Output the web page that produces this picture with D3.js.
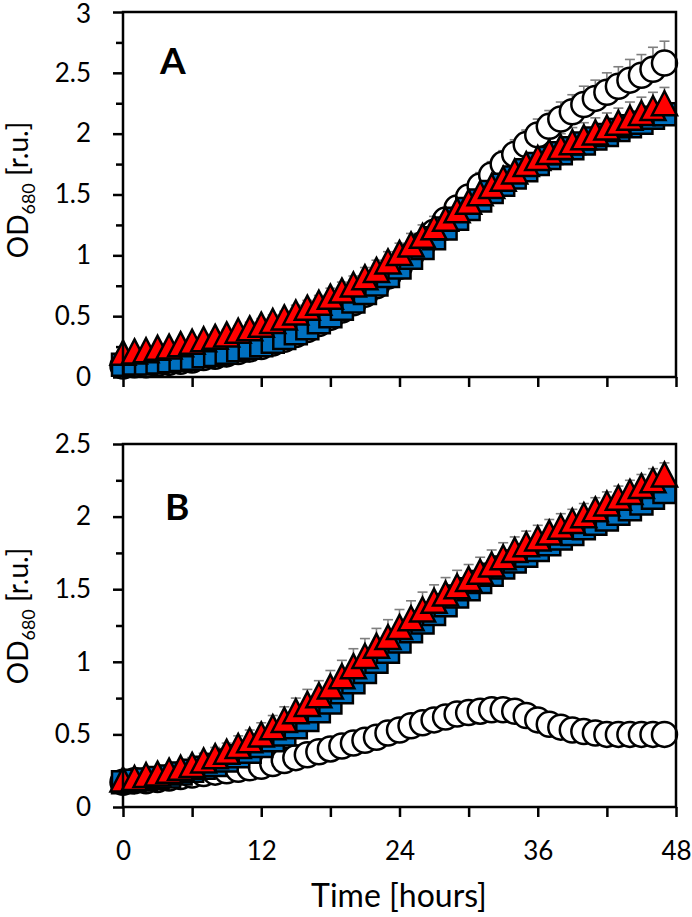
<!DOCTYPE html>
<html><head><meta charset="utf-8">
<script src="https://cdn.jsdelivr.net/npm/d3@7"></script>
<style>body{margin:0;background:#fff} svg{display:block} text{font-family:Lato,'Open Sans',sans-serif;fill:#000}</style>
</head><body><svg id="c" width="692" height="917"></svg>
<script>
// ---- data ----
const hours = [0,1,2,3,4,5,6,7,8,9,10,11,12,13,14,15,16,17,18,19,20,21,22,23,24,25,26,27,28,29,30,31,32,33,34,35,36,37,38,39,40,41,42,43,44,45,46,47];

// Panel A
const aCircle = [0.09,0.10,0.10,0.11,0.12,0.13,0.14,0.16,0.17,0.19,0.21,0.23,0.25,0.28,0.31,0.35,0.39,0.44,0.49,0.55,0.61,0.68,0.75,0.83,0.91,1.00,1.09,1.19,1.29,1.39,1.48,1.57,1.66,1.75,1.83,1.91,1.99,2.06,2.12,2.18,2.24,2.29,2.34,2.39,2.44,2.48,2.53,2.58];
const aCircleErr = [0.02,0.02,0.02,0.02,0.02,0.02,0.03,0.03,0.03,0.03,0.03,0.04,0.04,0.04,0.04,0.05,0.05,0.05,0.06,0.06,0.06,0.07,0.07,0.07,0.08,0.08,0.08,0.09,0.09,0.10,0.10,0.11,0.11,0.11,0.12,0.12,0.13,0.13,0.14,0.14,0.15,0.15,0.16,0.16,0.17,0.17,0.18,0.18];
const aSquare = [0.10,0.11,0.11,0.12,0.13,0.14,0.15,0.17,0.18,0.20,0.22,0.24,0.26,0.29,0.32,0.36,0.40,0.45,0.50,0.56,0.62,0.69,0.76,0.83,0.90,0.98,1.06,1.14,1.22,1.30,1.38,1.45,1.52,1.58,1.64,1.70,1.75,1.80,1.84,1.88,1.92,1.96,1.99,2.03,2.06,2.09,2.13,2.16];
const aSquareErr = [0.02,0.02,0.02,0.02,0.02,0.02,0.02,0.02,0.03,0.03,0.03,0.03,0.03,0.03,0.04,0.04,0.04,0.04,0.04,0.05,0.05,0.05,0.05,0.05,0.06,0.06,0.06,0.06,0.06,0.07,0.07,0.07,0.07,0.07,0.07,0.08,0.08,0.08,0.08,0.08,0.08,0.08,0.09,0.09,0.09,0.09,0.09,0.09];
const aTriangle = [0.20,0.21,0.22,0.24,0.25,0.27,0.29,0.31,0.33,0.35,0.38,0.40,0.43,0.46,0.49,0.53,0.57,0.61,0.66,0.71,0.76,0.82,0.88,0.95,1.02,1.09,1.16,1.23,1.30,1.37,1.44,1.51,1.57,1.63,1.69,1.75,1.80,1.85,1.89,1.93,1.97,2.01,2.05,2.09,2.13,2.17,2.21,2.25];
const aTriangleErr = [0.03,0.03,0.03,0.03,0.03,0.03,0.04,0.04,0.04,0.04,0.04,0.05,0.05,0.05,0.05,0.06,0.06,0.06,0.07,0.07,0.07,0.08,0.08,0.08,0.08,0.09,0.09,0.09,0.09,0.10,0.10,0.10,0.10,0.10,0.11,0.11,0.11,0.11,0.11,0.12,0.12,0.12,0.12,0.12,0.13,0.13,0.13,0.13];

// Panel B
const bCircle = [0.17,0.18,0.18,0.19,0.20,0.21,0.22,0.23,0.24,0.25,0.26,0.27,0.28,0.30,0.32,0.34,0.36,0.38,0.40,0.42,0.44,0.46,0.48,0.51,0.53,0.56,0.58,0.60,0.62,0.64,0.65,0.66,0.67,0.67,0.66,0.63,0.60,0.57,0.55,0.53,0.52,0.51,0.50,0.50,0.50,0.50,0.50,0.50];
const bCircleErr = [0.01,0.01,0.01,0.01,0.01,0.01,0.01,0.01,0.01,0.01,0.01,0.01,0.02,0.02,0.02,0.02,0.02,0.02,0.02,0.02,0.02,0.02,0.02,0.02,0.02,0.02,0.02,0.02,0.02,0.02,0.02,0.02,0.02,0.02,0.02,0.02,0.02,0.02,0.02,0.02,0.02,0.02,0.02,0.02,0.02,0.02,0.02,0.02];
const bSquare = [0.17,0.18,0.19,0.20,0.21,0.23,0.25,0.27,0.29,0.32,0.35,0.38,0.42,0.46,0.50,0.55,0.60,0.66,0.72,0.79,0.86,0.93,1.00,1.07,1.14,1.21,1.27,1.33,1.39,1.45,1.50,1.55,1.60,1.65,1.69,1.73,1.77,1.81,1.85,1.88,1.92,1.95,1.98,2.02,2.05,2.09,2.13,2.17];
const bSquareErr = [0.02,0.02,0.02,0.02,0.02,0.03,0.03,0.03,0.03,0.04,0.04,0.04,0.05,0.05,0.05,0.06,0.06,0.06,0.07,0.07,0.07,0.07,0.07,0.07,0.07,0.07,0.07,0.07,0.07,0.07,0.07,0.07,0.06,0.06,0.06,0.06,0.06,0.06,0.06,0.06,0.06,0.06,0.06,0.06,0.06,0.06,0.06,0.06];
const bTriangle = [0.19,0.20,0.22,0.23,0.25,0.27,0.29,0.32,0.35,0.38,0.42,0.46,0.50,0.55,0.60,0.66,0.71,0.77,0.83,0.90,0.97,1.04,1.11,1.17,1.24,1.30,1.36,1.42,1.47,1.52,1.57,1.62,1.67,1.72,1.77,1.81,1.85,1.89,1.93,1.97,2.01,2.05,2.09,2.13,2.17,2.21,2.25,2.29];
const bTriangleErr = [0.02,0.02,0.03,0.03,0.04,0.04,0.05,0.05,0.06,0.06,0.07,0.07,0.08,0.08,0.09,0.09,0.10,0.10,0.11,0.11,0.12,0.12,0.12,0.12,0.12,0.12,0.12,0.11,0.11,0.11,0.10,0.10,0.10,0.10,0.09,0.09,0.09,0.09,0.09,0.08,0.08,0.08,0.08,0.08,0.08,0.08,0.08,0.08];

const yTicksA = [0,0.5,1,1.5,2,2.5,3];
const yMinorA = [0.25,0.75,1.25,1.75,2.25,2.75];
const yTicksB = [0,0.5,1,1.5,2,2.5];
const yMinorB = [0.25,0.75,1.25,1.75,2.25];
const xTicks = [0,6,12,18,24,30,36,42,48];
const xTickLabels = [0,12,24,36,48];

// ---- drawing ----
const svg = d3.select('#c');
const x = d3.scaleLinear().domain([0,48]).range([123,676]);

const triSymbol = {draw(ctx,size){const w=12.5,h=12;ctx.moveTo(0,-h);ctx.lineTo(w,h);ctx.lineTo(-w,h);ctx.closePath();}};
const sqSymbol = {draw(ctx,size){const s=11;ctx.rect(-s,-s,2*s,2*s);}};
const ciSymbol = {draw(ctx,size){const r=12.5;ctx.moveTo(r,0);ctx.arc(0,0,r,0,2*Math.PI);}};

function drawPanel(cfg){
  const y = d3.scaleLinear().domain([0,cfg.yMax]).range([cfg.bottom,cfg.top]);
  const g = svg.append('g');
  const ay = g.append('g').attr('transform',`translate(123,0)`)
    .call(d3.axisLeft(y).tickValues(cfg.ticks).tickSize(10).tickPadding(22).tickFormat(d=>String(d)));
  ay.select('.domain').remove();
  ay.selectAll('line').attr('stroke','#000').attr('stroke-width',2.5);
  ay.selectAll('text').style('font-size','26px').attr('fill','#000').style('font-family','Lato')
    .attr('dy', d => y(d) < 20 ? '0.42em' : '0.32em');
  const ayMinor = g.append('g').attr('transform',`translate(123,0)`)
    .call(d3.axisLeft(y).tickValues(cfg.minor).tickSize(7).tickFormat(''));
  ayMinor.select('.domain').remove();
  ayMinor.selectAll('line').attr('stroke','#000').attr('stroke-width',2.5);
  const ax = g.append('g').attr('transform',`translate(0,${cfg.bottom})`)
    .call(d3.axisBottom(x).tickValues(xTicks).tickSize(10).tickPadding(25)
      .tickFormat(d => cfg.showX && xTickLabels.includes(d) ? String(d) : ''));
  ax.select('.domain').remove();
  ax.selectAll('line').attr('stroke','#000').attr('stroke-width',2.5);
  ax.selectAll('text').style('font-size','26px').attr('fill','#000').style('font-family','Lato');

  const eg = g.append('g').attr('stroke','#7f7f7f').attr('stroke-width',1.6).attr('fill','none');
  cfg.series.forEach(s=>{
    hours.forEach((h,i)=>{
      const cx=x(h), y0=y(s.values[i]), y1=y(s.values[i]+s.err[i]);
      eg.append('line').attr('x1',cx).attr('x2',cx).attr('y1',y0).attr('y2',y1);
      eg.append('line').attr('x1',cx-5).attr('x2',cx+5).attr('y1',y1).attr('y2',y1);
    });
  });
  cfg.series.forEach(s=>{
    const sym = d3.symbol().type(s.type);
    g.append('g').selectAll('path').data(hours).join('path')
      .attr('d',sym())
      .attr('transform',(h,i)=>`translate(${x(h)},${y(s.values[i])})`)
      .attr('fill',s.fill).attr('stroke','#000').attr('stroke-width',s.sw);
  });
  g.append('rect').attr('x',123).attr('y',cfg.top).attr('width',553).attr('height',cfg.bottom-cfg.top)
    .attr('fill','none').attr('stroke','#000').attr('stroke-width',2.5);
  g.append('text').attr('x',cfg.lx).attr('y',cfg.ly).text(cfg.label)
    .style('font-size','37px').style('font-weight','bold');
  const t = g.append('text').attr('transform',`translate(28,${cfg.titleY}) rotate(-90)`)
    .attr('text-anchor','middle').style('font-size','28px');
  t.append('tspan').text('OD');
  t.append('tspan').text('680').attr('dy',7).style('font-size','18px');
  t.append('tspan').text(' [r.u.]').attr('dy',-7);
}

drawPanel({top:12,bottom:377,yMax:3,ticks:yTicksA,minor:yMinorA,showX:false,label:'A',lx:160,ly:74,titleY:190,
  series:[
    {values:aCircle,err:aCircleErr,type:ciSymbol,fill:'#fff',sw:2.5},
    {values:aSquare,err:aSquareErr,type:sqSymbol,fill:'#0070C0',sw:2.5},
    {values:aTriangle,err:aTriangleErr,type:triSymbol,fill:'#FF0000',sw:2.5}
  ]});
drawPanel({top:444,bottom:807,yMax:2.5,ticks:yTicksB,minor:yMinorB,showX:true,label:'B',lx:165,ly:520,titleY:616,
  series:[
    {values:bCircle,err:bCircleErr,type:ciSymbol,fill:'#fff',sw:2.5},
    {values:bSquare,err:bSquareErr,type:sqSymbol,fill:'#0070C0',sw:2.5},
    {values:bTriangle,err:bTriangleErr,type:triSymbol,fill:'#FF0000',sw:2.5}
  ]});

svg.append('text').attr('x',399).attr('y',907).attr('text-anchor','middle')
  .style('font-size','32px').text('Time [hours]');
</script></body></html>
